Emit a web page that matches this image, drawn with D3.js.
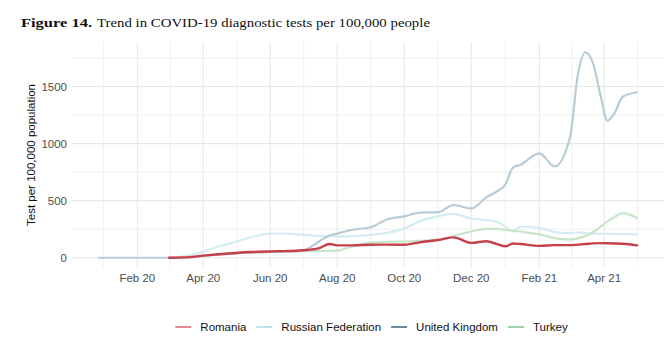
<!DOCTYPE html>
<html><head><meta charset="utf-8">
<script src="https://cdn.jsdelivr.net/npm/d3@7"></script>
<style>
html,body{margin:0;padding:0;background:#fff;}
svg{display:block;}
</style></head>
<body>
<svg id="chart" width="664" height="340"></svg>
<script>
const dates = ["2019-12-28","2020-01-15","2020-02-01","2020-02-15","2020-03-01","2020-03-15","2020-04-01","2020-04-15","2020-05-01","2020-05-15","2020-06-01","2020-06-15","2020-07-01","2020-07-15","2020-07-25","2020-08-01","2020-08-15","2020-09-01","2020-09-15","2020-10-01","2020-10-15","2020-11-01","2020-11-15","2020-12-01","2020-12-15","2020-12-24","2021-01-01","2021-01-08","2021-01-15","2021-02-01","2021-02-15","2021-03-01","2021-03-08","2021-03-15","2021-03-22","2021-03-29","2021-04-04","2021-04-10","2021-04-18","2021-05-01"];
const romania = [null,null,null,null,0,3,18,30,42,50,55,58,66,82,120,108,108,114,115,114,135,155,178,130,145,122,100,124,120,104,110,110,115,120,126,128,127,125,122,108];
const russia  = [null,null,null,null,0,15,50,100,140,180,212,212,200,192,187,187,190,200,218,255,320,365,385,342,330,315,275,228,272,260,225,215,222,215,212,210,210,208,207,205];
const uk      = [0,0,0,0,0,3,15,28,40,45,50,55,65,140,195,212,245,268,335,362,395,400,462,432,530,578,640,790,815,915,800,1060,1600,1800,1700,1410,1200,1260,1410,1450];
const turkey  = [null,null,null,null,null,0,15,30,40,45,50,52,58,60,60,62,100,132,140,142,148,158,190,230,252,252,245,238,228,205,172,158,170,190,225,275,318,355,390,348];
const seriesNames = ["Romania","Russian Federation","United Kingdom","Turkey"];
const yTicks = [0,500,1000,1500];

const lineColors = {"Romania":"#c63f4b","Russian Federation":"#d3edf2","United Kingdom":"#b8ccd7","Turkey":"#c7e5c9"};
const keyColors  = {"Romania":"#d7707a","Russian Federation":"#a9dde6","United Kingdom":"#4e6d80","Turkey":"#84c98b"};

const parse = d3.timeParse("%Y-%m-%d");
const dts = dates.map(parse);
const valuesByName = {"Romania":romania,"Russian Federation":russia,"United Kingdom":uk,"Turkey":turkey};
const series = seriesNames.map(n => ({name:n, pts: dts.map((d,i)=>({d, v: valuesByName[n][i]}))}));

const svg = d3.select("#chart");
const L = 72, R = 664, T = 42, B = 268;

const ext = d3.extent(dts);
const span = ext[1]-ext[0];
const x = d3.scaleTime().domain([new Date(+ext[0]-span*0.05), new Date(+ext[1]+span*0.05)]).range([L,R]);
const allV = [].concat(romania,russia,uk,turkey).filter(v=>v!=null);
const vmin = d3.min(allV), vmax = d3.max(allV), vs = vmax - vmin;
const y = d3.scaleLinear().domain([vmin - vs*0.05, vmax + vs*0.05]).range([B,T]);

// grid
const g = svg.append("g");
const majorX = d3.timeMonths(d3.timeMonth.offset(x.domain()[0],-2), d3.timeMonth.offset(x.domain()[1],2)).filter(d=>d.getMonth()%2===1);
const minorX = [];
for (let i=0;i<majorX.length-1;i++) minorX.push(new Date((+majorX[i]+ +majorX[i+1])/2));
const minorY = [];
for (let i=0;i<yTicks.length;i++) minorY.push(yTicks[i]+250);

g.selectAll(".mny").data(minorY.filter(v=>y(v)>=T&&y(v)<=B)).join("line")
  .attr("x1",L).attr("x2",R).attr("y1",d=>y(d)).attr("y2",d=>y(d))
  .attr("stroke","#f0f0f0").attr("stroke-width",1);
g.selectAll(".mnx").data(minorX.filter(d=>x(d)>=L&&x(d)<=R)).join("line")
  .attr("x1",d=>x(d)).attr("x2",d=>x(d)).attr("y1",T).attr("y2",B)
  .attr("stroke","#f0f0f0").attr("stroke-width",1);
g.selectAll(".mjy").data(yTicks).join("line")
  .attr("x1",L).attr("x2",R).attr("y1",d=>y(d)).attr("y2",d=>y(d))
  .attr("stroke","#e8e8e8").attr("stroke-width",1.1);
const visMajorX = majorX.filter(d=>x(d)>=L&&x(d)<=R);
g.selectAll(".mjx").data(visMajorX).join("line")
  .attr("x1",d=>x(d)).attr("x2",d=>x(d)).attr("y1",T).attr("y2",B)
  .attr("stroke","#e8e8e8").attr("stroke-width",1.1);

// axes labels
const fmt = d3.timeFormat("%b %y");
svg.append("g").selectAll("text").data(visMajorX).join("text")
  .attr("x",d=>x(d)).attr("y",282).attr("text-anchor","middle")
  .attr("font-family","Liberation Sans, Arial, sans-serif").attr("font-size",11.5).attr("fill","#4d4d4d")
  .text(d=>fmt(d));
svg.append("g").selectAll("text").data(yTicks).join("text")
  .attr("x",67).attr("y",d=>y(d)+4).attr("text-anchor","end")
  .attr("font-family","Liberation Sans, Arial, sans-serif").attr("font-size",11.5).attr("fill","#4d4d4d")
  .text(d=>d);
svg.append("text").attr("transform",`translate(35,${(T+B)/2}) rotate(-90)`).attr("text-anchor","middle")
  .attr("font-family","Liberation Sans, Arial, sans-serif").attr("font-size",11.5).attr("fill","#111")
  .text("Test per 100,000 population");

// lines
const line = d3.line().defined(p=>p.v!=null).x(p=>x(p.d)).y(p=>y(p.v)).curve(d3.curveMonotoneX);
const drawOrder = ["Russian Federation","Turkey","United Kingdom","Romania"];
svg.append("g").selectAll("path").data(drawOrder.map(n=>series.find(s=>s.name===n))).join("path")
  .attr("d",s=>line(s.pts)).attr("fill","none")
  .attr("stroke",s=>lineColors[s.name]).attr("stroke-width",s=>s.name==="Romania"?2.4:2.2)
  .attr("stroke-linejoin","round").attr("stroke-linecap","round");

// title
svg.append("text").attr("x",21).attr("y",27).attr("font-family","Liberation Serif, Times New Roman, serif")
  .attr("font-weight","bold").attr("font-size",13).attr("fill","#111")
  .attr("textLength",71).attr("lengthAdjust","spacingAndGlyphs").text("Figure 14.");
svg.append("text").attr("x",97).attr("y",27).attr("font-family","Liberation Serif, Times New Roman, serif")
  .attr("font-size",13).attr("fill","#111")
  .attr("textLength",333).attr("lengthAdjust","spacingAndGlyphs").text("Trend in COVID-19 diagnostic tests per 100,000 people");

// legend
const leg = svg.append("g");
let lx = 0;
const items = [];
seriesNames.forEach(n=>{
  const it = leg.append("g");
  it.append("line").attr("x1",0).attr("x2",16).attr("y1",0).attr("y2",0)
    .attr("stroke",keyColors[n]).attr("stroke-width",1.6);
  const t = it.append("text").attr("x",25).attr("y",4).attr("font-family","Liberation Sans, Arial, sans-serif")
    .attr("font-size",11.5).attr("fill","#111").text(n);
  const w = 25 + t.node().getComputedTextLength();
  items.push({it, w});
});
const gap = 10;
const total = d3.sum(items, d=>d.w) + gap*(items.length-1);
let cx = 371.5 - total/2;
items.forEach(d=>{ d.it.attr("transform",`translate(${cx},327)`); cx += d.w + gap; });
</script>
</body></html>
